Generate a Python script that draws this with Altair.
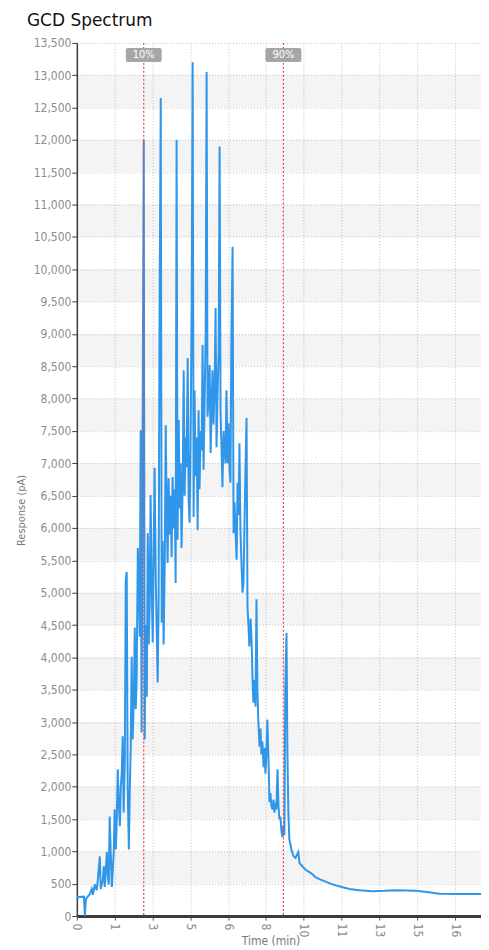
import altair as alt
import pandas as pd

# ---- data (time in minutes, response in pA) ----
time_min = [
    0.00, 0.30, 0.34, 0.38, 0.46, 0.55, 0.63, 0.68, 0.76, 0.84, 0.89, 0.97, 1.01, 1.10, 1.14, 1.18,
    1.27, 1.31, 1.35, 1.39, 1.44, 1.48, 1.56, 1.60, 1.65, 1.69, 1.73, 1.77, 1.82, 1.86, 1.90, 1.94,
    1.98, 2.03, 2.07, 2.11, 2.15, 2.20, 2.24, 2.28, 2.32, 2.36, 2.41, 2.45, 2.49, 2.53, 2.58, 2.62,
    2.66, 2.70, 2.74, 2.79, 2.83, 2.87, 2.91, 2.96, 3.00, 3.04, 3.08, 3.12, 3.17, 3.21, 3.25, 3.29,
    3.34, 3.38, 3.42, 3.46, 3.50, 3.55, 3.59, 3.63, 3.67, 3.72, 3.76, 3.80, 3.84, 3.88, 3.93, 3.97,
    4.01, 4.05, 4.10, 4.14, 4.18, 4.22, 4.26, 4.31, 4.35, 4.39, 4.43, 4.48, 4.52, 4.56, 4.60, 4.64,
    4.69, 4.73, 4.77, 4.81, 4.86, 4.90, 4.94, 4.98, 5.02, 5.07, 5.11, 5.15, 5.19, 5.24, 5.28, 5.32,
    5.36, 5.40, 5.45, 5.49, 5.53, 5.57, 5.62, 5.66, 5.70, 5.74, 5.78, 5.83, 5.87, 5.91, 5.95, 6.00,
    6.04, 6.08, 6.12, 6.16, 6.21, 6.25, 6.29, 6.33, 6.38, 6.42, 6.46, 6.50, 6.54, 6.59, 6.63, 6.67,
    6.71, 6.76, 6.80, 6.84, 6.88, 6.92, 6.97, 7.01, 7.05, 7.09, 7.14, 7.18, 7.22, 7.26, 7.30, 7.35,
    7.39, 7.43, 7.47, 7.52, 7.56, 7.60, 7.64, 7.68, 7.73, 7.77, 7.81, 7.85, 7.90, 7.94, 7.98, 8.02,
    8.06, 8.11, 8.15, 8.19, 8.23, 8.28, 8.32, 8.36, 8.40, 8.44, 8.49, 8.53, 8.57, 8.61, 8.66, 8.70,
    8.74, 8.78, 8.82, 8.87, 8.91, 8.95, 8.99, 9.08, 9.16, 9.25, 9.37, 9.42, 9.54, 9.67, 9.84, 9.96,
    10.09, 10.26, 10.47, 10.81, 11.10, 11.53, 11.95, 12.50, 13.00, 13.51, 14.35, 14.90, 15.33, 16.17,
    17.10,
]
response_pa = [
    290, 300, 0, 260, 300, 340, 420, 330, 490, 400, 570, 925, 420, 560, 770, 450,
    990, 600, 490, 1540, 900, 450, 990, 1650, 1030, 1500, 2270, 1800, 1390, 2000, 2220, 2780,
    1600, 2420, 5200, 5320, 2000, 1030, 1960, 2600, 4010, 2730, 3350, 4460, 3200, 3660, 5690, 5200,
    4320, 7510, 2840, 8250, 12000, 2730, 4500, 3390, 5920, 4200, 4810, 6510, 5000, 4230, 5600, 6930,
    5200, 4400, 3610, 4890, 9400, 12650, 4540, 5800, 4200, 5500, 7590, 6200, 5460, 6770, 5900, 6500,
    5550, 6790, 6000, 6600, 5150, 12000, 5820, 7670, 6300, 7000, 5690, 6740, 8440, 6500, 7400, 6940,
    8630, 6430, 6080, 7300, 9520, 13200, 6170, 8130, 6800, 7400, 5970, 7820, 6600, 7500, 7200, 8830,
    6900, 7800, 9000, 13050, 7720, 8000, 8520, 7160, 7900, 8440, 7600, 8200, 9400, 7250, 8000, 8750,
    11900, 7800, 7250, 6630, 7500, 7200, 7000, 8130, 7000, 7620, 6900, 6700, 9000, 10350, 5920, 6400,
    6000, 5510, 6700, 6200, 7310, 6000, 5400, 5000, 5150, 6000, 7000, 7700, 4780, 4500, 4170, 4600,
    4300, 3700, 3300, 3650, 3240, 4900, 3500, 3000, 2620, 2900, 2500, 2700, 2300, 2600, 2200, 2500,
    3040, 2400, 1760, 1900, 1700, 1650, 1800, 1600, 1750, 1650, 2270, 1700, 1500, 1540, 1300, 1220,
    1400, 1250, 3500, 4380, 2500, 1600, 1190, 1030, 930, 900, 990, 820, 770, 720, 680, 650,
    600, 570, 540, 490, 460, 420, 400, 385, 390, 400, 392, 370, 345, 340,
    340,
]

tick_pos = [0, 1.6, 3.2, 4.8, 6.4, 8.0, 9.6, 11.2, 12.8, 14.4, 16.0]
tick_labels = ["0", "1", "3", "5", "6", "8", "10", "11", "13", "15", "16"]
y_ticks = [0, 500, 1000, 1500, 2000, 2500, 3000, 3500, 4000, 4500, 5000, 5500, 6000, 6500,
           7000, 7500, 8000, 8500, 9000, 9500, 10000, 10500, 11000, 11500, 12000, 12500, 13000, 13500]

marker_time = [2.83, 8.74]
marker_text = ["10%", "90%"]

band_lo = [500, 1500, 2500, 3500, 4500, 5500, 6500, 7500, 8500, 9500, 10500, 11500, 12500]
band_hi = [1000, 2000, 3000, 4000, 5000, 6000, 7000, 8000, 9000, 10000, 11000, 12000, 13000]

title_text = ["GCD Spectrum"]

df = pd.DataFrame({"t": time_min, "v": response_pa})
markers = pd.DataFrame({"t": marker_time, "label": marker_text})
bands = pd.DataFrame({"lo": band_lo, "hi": band_hi})
titles = pd.DataFrame({"title": title_text})

W, H = 405, 875
FONT = "DejaVu Sans Condensed, Liberation Sans, sans-serif"

x_scale = alt.Scale(domain=[0, 17.1], nice=False, zero=False)
y_scale = alt.Scale(domain=[0, 13500], nice=False)

label_expr = ("[" + ",".join("'%s'" % s for s in tick_labels) + "][indexof(["
              + ",".join("%g" % p for p in tick_pos) + "], datum.value)]")

x_axis = alt.Axis(
    values=tick_pos, labelExpr=label_expr, labelAngle=90, labelAlign="left",
    labelBaseline="middle", labelColor="#8c8c8c", labelFontSize=12, labelFont=FONT,
    labelPadding=3, labelOverlap=False,
    grid=True, gridColor="#c4c4c4", gridDash=[1, 2], gridWidth=1,
    domainColor="#3c3c3c", domainWidth=3, tickColor="#555555", tickSize=4,
    title="Time (min)", titleColor="#7a7a7a", titleFont=FONT, titleFontSize=12,
    titleFontWeight="normal", titleX=194, titleY=24, titleBaseline="middle",
    titleAlign="center")

y_axis = alt.Axis(
    values=y_ticks, labelExpr="format(datum.value, ',d')",
    labelColor="#8c8c8c", labelFontSize=12, labelFont=FONT,
    labelPadding=1, labelOverlap=False,
    grid=True, gridColor="#c4c4c4", gridDash=[1, 2], gridWidth=1,
    domainColor="#3c3c3c", domainWidth=1.5, tickColor="#3c3c3c", tickSize=5,
    title="Response (pA)", titleColor="#7a7a7a", titleFont=FONT, titleFontSize=11,
    titleFontWeight="normal", titleX=-55, titleY=468, titleAlign="center",
    titleBaseline="middle", titleAngle=-90)

band_layer = alt.Chart(bands).mark_rect(fill="#000000", fillOpacity=0.045).encode(
    x=alt.value(0), x2=alt.value(W),
    y=alt.Y("lo:Q", scale=y_scale, axis=y_axis), y2="hi:Q",
)

line = alt.Chart(df).mark_line(color="#2f96e9", strokeWidth=2).encode(
    x=alt.X("t:Q", scale=x_scale, axis=x_axis),
    y=alt.Y("v:Q", scale=y_scale, axis=y_axis),
)

rules = alt.Chart(markers).mark_rule(color="#ee4444", strokeDash=[2, 2], strokeWidth=1.2).encode(
    x=alt.X("t:Q", scale=x_scale, axis=x_axis)
)

boxes = alt.Chart(markers).mark_rect(color="#a6a6a6", xOffset=-18, x2Offset=18, cornerRadius=2).encode(
    x=alt.X("t:Q", scale=x_scale, axis=x_axis), x2="t:Q", y=alt.value(5), y2=alt.value(19)
)

box_text = alt.Chart(markers).mark_text(color="#ffffff", fontSize=11, font=FONT, baseline="middle").encode(
    x=alt.X("t:Q", scale=x_scale, axis=x_axis), y=alt.value(12), text="label:N"
)

title_layer = alt.Chart(titles).mark_text(
    fontSize=17, color="#111111", font="DejaVu Sans, Verdana, sans-serif",
    align="left", baseline="alphabetic"
).encode(x=alt.value(-50), y=alt.value(-17), text="title:N")

chart = alt.layer(band_layer, line, rules, boxes, box_text, title_layer).properties(
    width=W, height=H,
    autosize=alt.AutoSizeParams(type="none"),
    padding={"left": 69, "top": 34, "right": 0, "bottom": 30},
).configure_view(stroke=None)

chart.save("out.html", embed_options={"renderer": "svg", "actions": False})
